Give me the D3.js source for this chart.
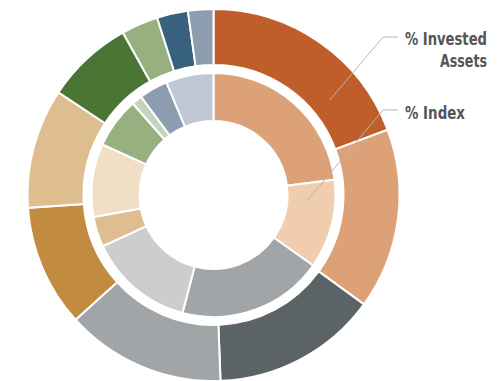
<!DOCTYPE html>
<html><head><meta charset="utf-8">
<script src="https://cdn.jsdelivr.net/npm/d3@7"></script>
<style>html,body{margin:0;padding:0;background:#fff;}svg{display:block;}</style>
</head><body>
<svg id="chart" width="503" height="381"></svg>
<script>
const outerCategories = ["A1","A2","A3","A4","A5","A6","A7","A8","A9","A10"];
const outerValues = [19.3, 15.7, 14.4, 13.9, 10.6, 10.4, 7.6, 3.2, 2.7, 2.2];
const outerColors = ["#BF5E2A","#DDA177","#5C6366","#A1A5A7","#C28B40","#DEBD8E","#4B7535","#98AF7F","#37617C","#8B9DAF"];
const innerCategories = ["B1","B2","B3","B4","B5","B6","B7","B8","B9","B10"];
const innerValues = [23.0, 11.8, 19.3, 14.0, 4.0, 9.7, 6.7, 1.4, 3.8, 6.3];
const innerColors = ["#DDA177","#F0CDAF","#A1A5A7","#CBCDCF","#DEBD8E","#F0DFC5","#98AF7F","#C5D3BD","#8B9DAF","#BDC8D4"];
const labels = [
  {lines:["% Invested","Assets"]},
  {lines:["% Index"]}
];

const svg = d3.select("#chart");
const cx = 213.5, cy = 195;
const g = svg.append("g").attr("transform", `translate(${cx},${cy})`);
const pie = d3.pie().sort(null).value(d => d.v);

function ring(cats, vals, cols, r0, r1){
  const data = cats.map((c,i)=>({c, v: vals[i], col: cols[i]}));
  const arc = d3.arc().innerRadius(r0).outerRadius(r1);
  g.append("g").selectAll("path").data(pie(data)).join("path")
    .attr("d", arc).attr("fill", d => d.data.col)
    .attr("stroke", "#fff").attr("stroke-width", 2).attr("stroke-linejoin","miter");
}
ring(outerCategories, outerValues, outerColors, 130, 186);
ring(innerCategories, innerValues, innerColors, 74, 122);

// leader lines
const leaders = [
  {angle: 50.8, r: 150, ky: 37},
  {angle: 93, r: 94.6, ky: 110}
];
const lineG = svg.append("g");
leaders.forEach(l => {
  const p = d3.pointRadial(l.angle*Math.PI/180, l.r);
  const x0 = cx + p[0], y0 = cy + p[1];
  lineG.append("path")
    .attr("d", `M${x0},${y0}L383,${l.ky}L398,${l.ky}`)
    .attr("fill","none").attr("stroke","#B5B5B5").attr("stroke-width",1);
});
const tf = "'DejaVu Sans Condensed','DejaVu Sans',sans-serif";
function label(x, y, anchor, txt, w){
  svg.append("text").attr("x",x).attr("y",y).attr("text-anchor",anchor)
    .attr("font-family",tf).attr("font-size",17.5).attr("font-weight","bold").attr("fill","#555")
    .attr("textLength", w).attr("lengthAdjust","spacingAndGlyphs")
    .text(txt);
}
label(487, 45, "end", labels[0].lines[0], 82);
label(487, 67, "end", labels[0].lines[1], 47);
label(405, 119, "start", labels[1].lines[0], 60);
</script>
</body></html>
